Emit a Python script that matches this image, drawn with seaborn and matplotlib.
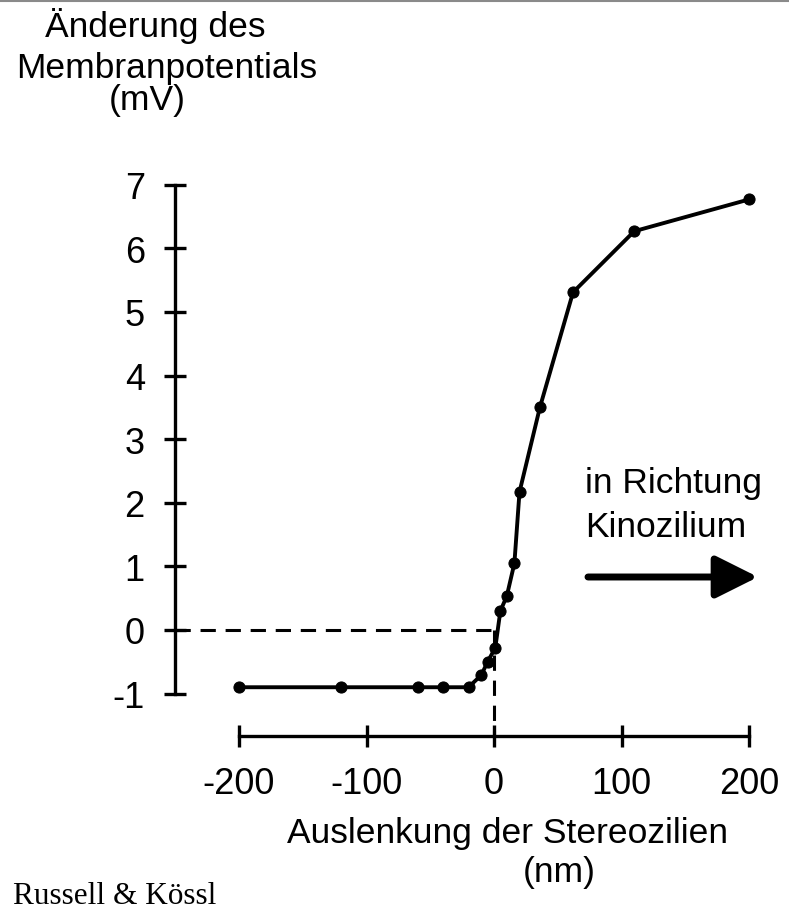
import numpy as np
import pandas as pd
import seaborn as sns
import matplotlib
matplotlib.use("Agg")
import matplotlib.pyplot as plt
from matplotlib.lines import Line2D

# ---- data ----
deflection_nm = [-200, -120, -60, -40, -20, -10, -5, 1, 5, 10, 16, 20, 36, 62, 110, 200]
potential_mV = [-0.9, -0.9, -0.9, -0.9, -0.9, -0.71, -0.5, -0.28, 0.30, 0.53, 1.05, 2.17, 3.5, 5.31, 6.27, 6.77]
x_ticks = [-200, -100, 0, 100, 200]
y_ticks = [-1, 0, 1, 2, 3, 4, 5, 6, 7]

df = pd.DataFrame({"x": deflection_nm, "y": potential_mV})

sns.set_theme(style="white")
plt.rcParams["font.family"] = ["Liberation Sans", "DejaVu Sans"]

W, H, DPI = 789, 912, 100
fig = plt.figure(figsize=(W / DPI, H / DPI), dpi=DPI)

# axes placement in pixels
ax_l, ax_r, ax_top, ax_bot = 175, 775, 150, 737
ax = fig.add_axes([ax_l / W, (H - ax_bot) / H, (ax_r - ax_l) / W, (ax_bot - ax_top) / H])

# data->pixel mapping: x0 at 494 px, 1.275 px/nm ; y0 at 631 px, 63.6 px/mV
x0px, xs = 494, 1.275
y0px, ys = 631, 63.6
ax.set_xlim((ax_l - x0px) / xs, (ax_r - x0px) / xs)
ax.set_ylim((y0px - ax_bot) / ys, (y0px - ax_top) / ys)

sns.lineplot(data=df, x="x", y="y", ax=ax, color="black", linewidth=2.8,
             marker="o", markersize=8, markeredgecolor="black", sort=False,
             clip_on=False)

# dashed guide lines
xl = ax.get_xlim()
yl = ax.get_ylim()
ax.plot([xl[0], 0], [0, 0], color="black", lw=2.2, ls=(0, (5, 3.2)), clip_on=False)
ax.plot([0, 0], [0, yl[0]], color="black", lw=2.2, ls=(0, (5, 3.2)), clip_on=False)

# spines
for s in ["top", "right"]:
    ax.spines[s].set_visible(False)
ax.spines["left"].set_bounds(-1, 7)
ax.spines["bottom"].set_bounds(-200, 200)
for s in ["left", "bottom"]:
    ax.spines[s].set_linewidth(2.4)
    ax.spines[s].set_color("black")

ax.set_xticks(x_ticks)
ax.set_xticklabels([str(v) for v in x_ticks])
ax.set_yticks(y_ticks)
ax.set_yticklabels([str(v) for v in y_ticks])
ax.tick_params(axis="both", direction="inout", length=15.5, width=2.4, colors="black",
               labelsize=26, labelcolor="black")
ax.tick_params(axis="y", pad=14, left=True)
ax.tick_params(axis="x", pad=14, bottom=True)
ax.set_xlabel("")
ax.set_ylabel("")
ax.patch.set_alpha(0)


def ftext(xpx, ypx, s, ha="center", **kw):
    fig.text(xpx / W, 1 - ypx / H, s, ha=ha, va="baseline", color="black", **kw)


# y label
ftext(155, 37, "Änderung des", fontsize=25.5)
ftext(167, 78, "Membranpotentials", fontsize=25.5)
ftext(147, 110, "(mV)", fontsize=25.5)

# x label
ftext(507, 843, "Auslenkung der Stereozilien", fontsize=25.5)
ftext(559, 882, "(nm)", fontsize=25.5)

# annotation
ftext(585, 493, "in Richtung", ha="left", fontsize=25.5)
ftext(585, 537, "Kinozilium", ha="left", fontsize=25.5)

# arrow
ax.annotate("", xy=(758, H - 578), xycoords="figure pixels",
            xytext=(588, H - 578), textcoords="figure pixels",
            arrowprops=dict(arrowstyle="-|>,head_length=1.0,head_width=0.5",
                            mutation_scale=26, color="black", lw=5,
                            shrinkA=0, shrinkB=0))

# source
fig.text(13 / W, 1 - 904 / H, "Russell & Kössl", ha="left", va="baseline",
         fontsize=22.5, family=["Liberation Serif", "DejaVu Serif"], color="black")

# top border line
fig.add_artist(Line2D([0, 1], [1 - 2 / H, 1 - 2 / H], transform=fig.transFigure,
                      color="#8a8a8a", lw=1.5))

fig.savefig("out.png", dpi=DPI)
